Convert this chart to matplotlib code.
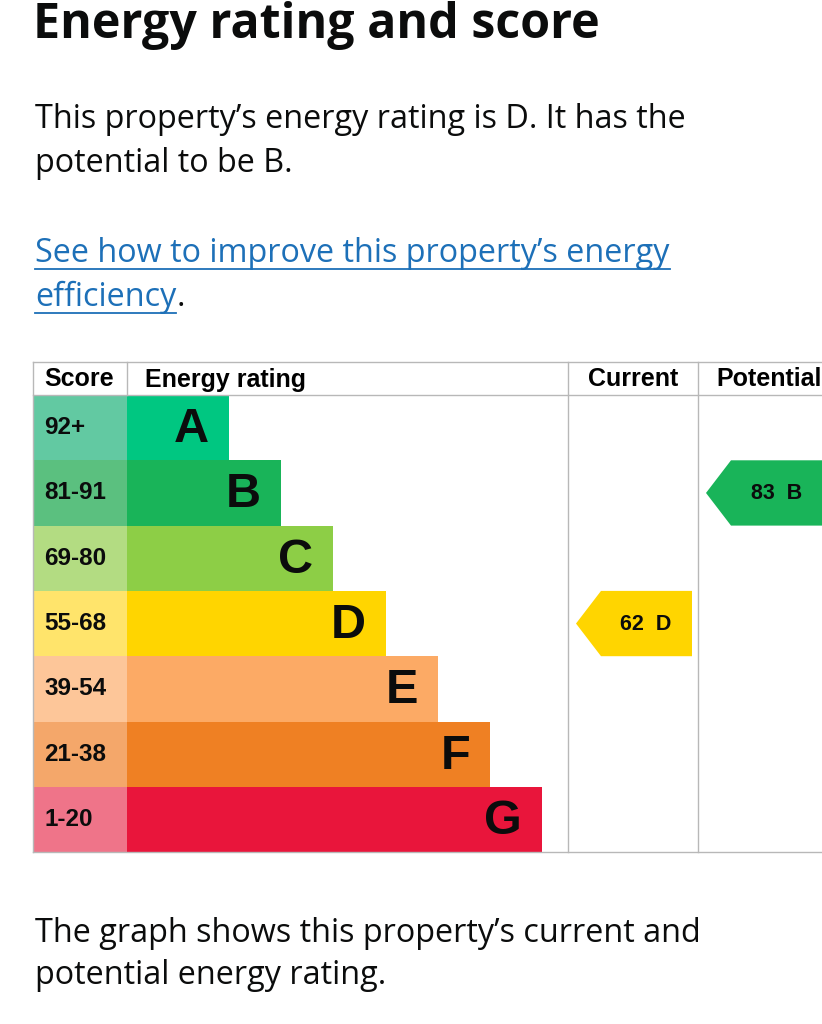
import numpy as np
import matplotlib
matplotlib.use("Agg")
import matplotlib.pyplot as plt
from matplotlib.patches import Rectangle, Polygon

# --- data --- #
bands = ["A", "B", "C", "D", "E", "F", "G"]
score_labels = ["92+", "81-91", "69-80", "55-68", "39-54", "21-38", "1-20"]
score_min = [92, 81, 69, 55, 39, 21, 1]
band_colors = ["#00c781", "#19b459", "#8dce46", "#ffd500", "#fcaa65", "#ef8023", "#e9153b"]
score_colors = ["#62c9a2", "#5bc07f", "#b3dc82", "#ffe46b", "#fdc699", "#f4a76a", "#ef7489"]
current_score = 62
potential_score = 83

title = "Energy rating and score"
intro_lines = ["This property\u2019s energy rating is D. It has the", "potential to be B."]
link_lines = ["See how to improve this property\u2019s energy", "efficiency"]
outro_lines = ["The graph shows this property\u2019s current and", "potential energy rating."]

W, H = 822, 1024
fig = plt.figure(figsize=(W / 100, H / 100), dpi=100)
ax = fig.add_axes([0, 0, 1, 1])
ax.set_xlim(0, W)
ax.set_ylim(H, 0)
ax.axis("off")

body_font = "Open Sans"
chart_font = "Liberation Sans"
grey = "#b8b8b8"
body_size = 23.3

# --- texts above --- #
ax.text(33, 26, title, fontsize=34.8, fontweight="bold", family=body_font,
        va="center", ha="left", color="#0b0c0c")
for i, line in enumerate(intro_lines):
    ax.text(35, 120 + i * 44, line, fontsize=body_size, family=body_font,
            va="center", ha="left", color="#0b0c0c")

fig.canvas.draw()
renderer = fig.canvas.get_renderer()
inv = ax.transData.inverted()
for i, line in enumerate(link_lines):
    y = 253 + i * 44
    t = ax.text(35, y, line, fontsize=body_size, family=body_font,
                va="center", ha="left", color="#1d70b8")
    bb = t.get_window_extent(renderer)
    x0, _ = inv.transform((bb.x0, bb.y0))
    x1, _ = inv.transform((bb.x1, bb.y0))
    ax.plot([x0, x1], [y + 16, y + 16], color="#1d70b8", lw=1.3)
    if i == len(link_lines) - 1:
        ax.text(x1, y, ".", fontsize=body_size, family=body_font,
                va="center", ha="left", color="#0b0c0c")

for i, line in enumerate(outro_lines):
    ax.text(35, 933 + i * 43, line, fontsize=body_size, family=body_font,
            va="center", ha="left", color="#0b0c0c")

# --- chart table --- #
left, score_w = 33, 94
top, head_h, row_h = 362, 33, 65.3
bar_x0 = left + score_w
bar_w0, bar_step = 102, 52.2
col_cur, col_pot = 568, 698
table_bottom = top + head_h + row_h * len(bands)

ax.plot([left, W], [top, top], color=grey, lw=1)
ax.plot([left, W], [top + head_h, top + head_h], color=grey, lw=1)
ax.plot([left, W], [table_bottom, table_bottom], color=grey, lw=1)
ax.plot([left, left], [top, table_bottom], color=grey, lw=1)
ax.plot([bar_x0, bar_x0], [top, top + head_h], color=grey, lw=1)
for xc in (col_cur, col_pot):
    ax.plot([xc, xc], [top, table_bottom], color=grey, lw=1)

hy = top + head_h / 2 + 1
head_size = 18
ax.text(44, hy, "Score", fontsize=head_size, fontweight="bold", family=chart_font, va="center")
ax.text(145, hy, "Energy rating", fontsize=head_size, fontweight="bold", family=chart_font, va="center")
ax.text((col_cur + col_pot) / 2, hy, "Current", fontsize=head_size, fontweight="bold",
        family=chart_font, va="center", ha="center")
ax.text(716, hy, "Potential", fontsize=head_size, fontweight="bold", family=chart_font, va="center")

for i, (b, s) in enumerate(zip(bands, score_labels)):
    y0 = top + head_h + i * row_h
    yc = y0 + row_h / 2
    ax.add_patch(Rectangle((left, y0), score_w, row_h, color=score_colors[i], lw=0))
    bw = bar_w0 + i * bar_step
    ax.add_patch(Rectangle((bar_x0, y0), bw, row_h, color=band_colors[i], lw=0))
    ax.text(44, yc, s, fontsize=17.5, fontweight="bold", family=chart_font,
            va="center", ha="left", color="#0b0c0c")
    ax.text(bar_x0 + bw - 20, yc + 2, b, fontsize=35, fontweight="bold", family=chart_font,
            va="center", ha="right", color="#0b0c0c")


def band_index(score):
    for i, m in enumerate(score_min):
        if score >= m:
            return i
    return len(score_min) - 1


def draw_arrow(score, x_tip, x_right, x_text):
    i = band_index(score)
    y0 = top + head_h + i * row_h
    y1 = y0 + row_h
    yc = (y0 + y1) / 2
    pts = [(x_tip, yc), (x_tip + 25, y0), (x_right, y0), (x_right, y1), (x_tip + 25, y1)]
    ax.add_patch(Polygon(pts, closed=True, color=band_colors[i], lw=0))
    ax.text(x_text, yc + 1, "{}  {}".format(score, bands[i]), fontsize=15.5, fontweight="bold",
            family=chart_font, va="center", ha="center", color="#0b0c0c")


draw_arrow(current_score, 576, 692, 646)
draw_arrow(potential_score, 706, 830, 777)

fig.savefig("out.png", dpi=100, facecolor="white")
